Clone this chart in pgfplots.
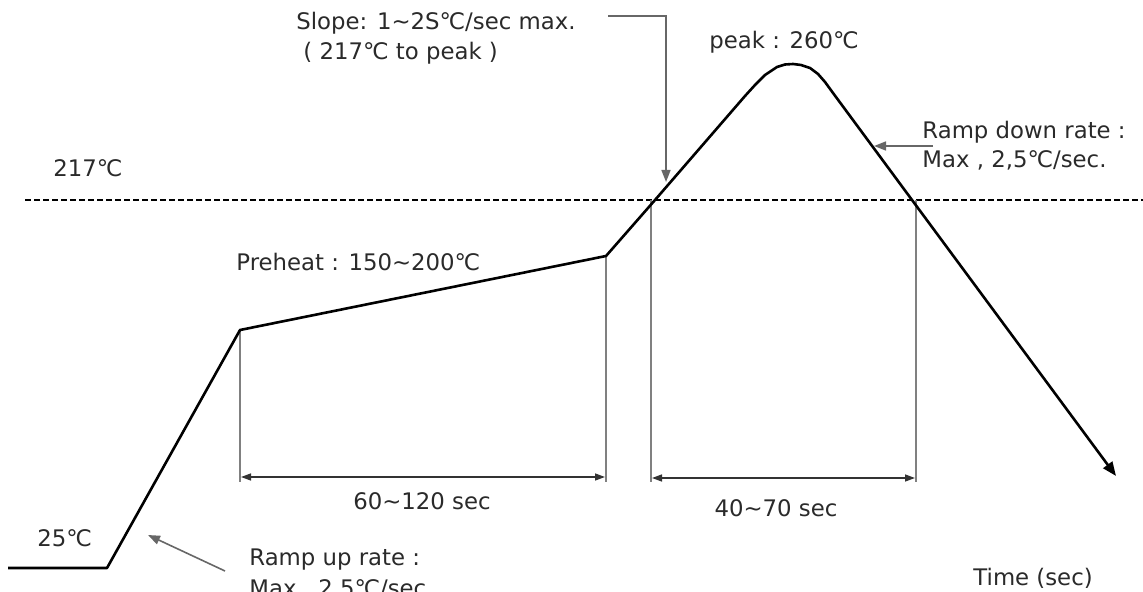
\documentclass[border=0pt]{standalone}
\usepackage{pgfplots}
\pgfplotsset{compat=1.18}
\usepackage{fontspec}
\setmainfont{DejaVu Sans}
\usetikzlibrary{arrows.meta}
\newcommand\dc{℃}
\newcommand\tl{{\char"007E\relax}}
\definecolor{txt}{HTML}{2a2a2a}
\definecolor{guide}{HTML}{808080}
\tikzset{lbl/.style={font=\fontsize{11.4pt}{13pt}\selectfont, text=txt, inner sep=0pt}}
\begin{document}
\begin{tikzpicture}
\begin{axis}[
  scale only axis, width=571.5pt, height=296pt,
  xmin=0, xmax=1143, ymin=0, ymax=592, y dir=reverse,
  axis lines=none, clip=false,
]
% 217 C dashed line
\addplot[black, line width=1pt, dash pattern=on 3pt off 1.5pt] coordinates {(25,200) (1143,200)};
% guide verticals
\addplot[guide, line width=0.8pt] coordinates {(240,330) (240,482)};
\addplot[guide, line width=0.8pt] coordinates {(606,256) (606,482)};
\addplot[guide, line width=0.8pt] coordinates {(651,200) (651,482)};
\addplot[guide, line width=0.8pt] coordinates {(916,200) (916,482)};
% span arrows
\addplot[black!80, line width=0.7pt, {Triangle[length=5pt,width=3.5pt]}-{Triangle[length=5pt,width=3.5pt]}] coordinates {(241,477) (605,477)};
\addplot[black!80, line width=0.7pt, {Triangle[length=5pt,width=3.5pt]}-{Triangle[length=5pt,width=3.5pt]}] coordinates {(652,478) (915,478)};
% profile
\addplot[black, line width=1.3pt, line join=round, -{Triangle[length=7pt,width=5.5pt]}] coordinates {
 (8,568) (107,568) (240,330) (606,256) (655,200) (745,96)
 (755,85) (765,75) (777,67) (785,64.5) (793,64) (801,65) (810,68) (818,74) (825,82) (833,93)
 (912,200) (1116,476)};
% leaders
\addplot[guide!80!black, line width=0.8pt, -{Triangle[length=6pt,width=4.5pt]}] coordinates {(608,16) (666,16) (666,182)};
\addplot[guide!80!black, line width=0.8pt, -{Triangle[length=6pt,width=4.5pt]}] coordinates {(933,146) (874,146)};
\addplot[guide!80!black, line width=0.8pt, -{Triangle[length=6pt,width=4.5pt]}] coordinates {(225,571) (148,535)};
% labels
\node[lbl,anchor=west] at (axis cs:296,23) {Slope: 1\tl 2S\dc/sec max.};
\node[lbl,anchor=west] at (axis cs:303,53) {( 217\dc\ to peak )};
\node[lbl,anchor=west] at (axis cs:709,42) {peak : 260\dc};
\node[lbl,anchor=west] at (axis cs:922,132) {Ramp down rate :};
\node[lbl,anchor=west] at (axis cs:922,160) {Max , 2,5\dc/sec.};
\node[lbl,anchor=west] at (axis cs:53,168) {217\dc};
\node[lbl,anchor=west] at (axis cs:236,262) {Preheat : 150\tl 200\dc};
\node[lbl] at (axis cs:422,501) {60\tl 120 sec};
\node[lbl] at (axis cs:776,508) {40\tl 70 sec};
\node[lbl,anchor=west] at (axis cs:37,538) {25\dc};
\node[lbl,anchor=west] at (axis cs:249,560) {Ramp up rate :};
\node[lbl,anchor=west] at (axis cs:249,589) {Max , 2,5\dc/sec.};
\node[lbl,anchor=west] at (axis cs:973,578) {Time (sec)};
\end{axis}
\pgfresetboundingbox
\useasboundingbox (current axis.south west) rectangle (current axis.north east);
\end{tikzpicture}
\end{document}
